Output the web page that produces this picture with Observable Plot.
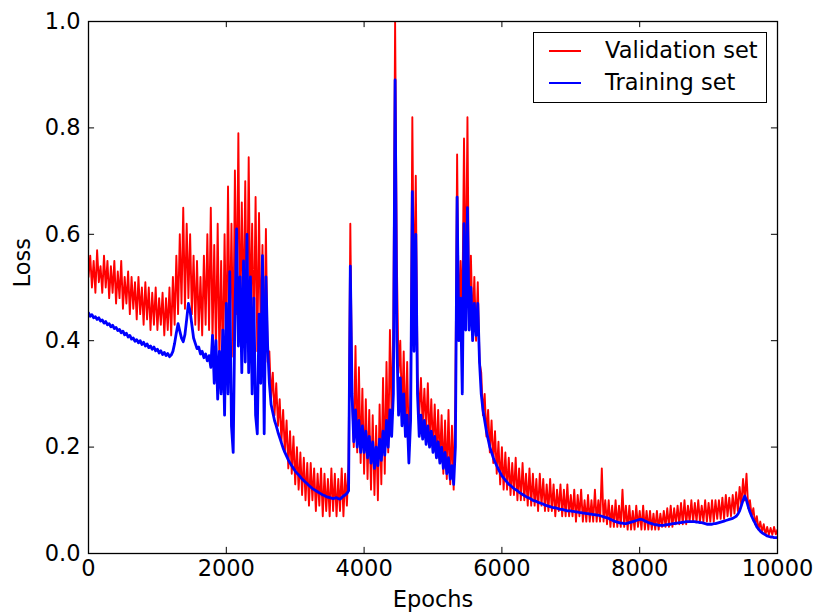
<!DOCTYPE html>
<html>
<head>
<meta charset="utf-8">
<script src="https://cdn.jsdelivr.net/npm/d3@7"></script>
<script src="https://cdn.jsdelivr.net/npm/@observablehq/plot@0.6"></script>
<style>
  body { margin: 0; background: #fff; }
  #wrap { position: relative; width: 819px; height: 616px; font-family: "DejaVu Sans", sans-serif; }
  #legend { position: absolute; left: 533px; top: 32px; width: 232px; height: 69px; border: 1.2px solid #000; background: #fff; }
  .lg-line { position: absolute; left: 15px; width: 32px; height: 2px; }
  .lg-text { position: absolute; left: 71px; font-size: 22.5px; line-height: 1; color: #000; }
</style>
</head>
<body>
<div id="wrap"></div>
<script>
const step = 25; // both series sampled every 25 epochs
const seriesNames = ["Validation set", "Training set"];
const seriesColors = ["red", "blue"];
const xTicks = [0, 2000, 4000, 6000, 8000, 10000];
const yTicks = [0, 0.2, 0.4, 0.6, 0.8, 1.0];

const validation = [
  0.52,0.56,0.50,0.55,0.49,0.57,0.51,0.54,0.49,0.56,
  0.50,0.55,0.48,0.54,0.49,0.55,0.47,0.53,0.48,0.55,
  0.46,0.52,0.47,0.53,0.45,0.52,0.46,0.51,0.44,0.52,
  0.45,0.50,0.43,0.51,0.44,0.50,0.42,0.49,0.43,0.50,
  0.42,0.48,0.43,0.49,0.41,0.48,0.42,0.50,0.41,0.52,
  0.43,0.56,0.45,0.60,0.47,0.65,0.46,0.62,0.48,0.60,
  0.45,0.56,0.43,0.55,0.42,0.52,0.41,0.56,0.43,0.60,
  0.42,0.65,0.40,0.58,0.38,0.62,0.36,0.55,0.35,0.60,
  0.38,0.69,0.40,0.62,0.37,0.72,0.45,0.79,0.42,0.66,
  0.44,0.70,0.41,0.745,0.43,0.62,0.40,0.67,0.38,0.64,
  0.40,0.58,0.37,0.61,0.36,0.38,0.29,0.34,0.26,0.32,
  0.24,0.29,0.21,0.27,0.19,0.25,0.16,0.23,0.15,0.22,
  0.13,0.20,0.12,0.19,0.11,0.18,0.10,0.17,0.09,0.17,
  0.10,0.16,0.08,0.15,0.09,0.16,0.07,0.15,0.08,0.14,
  0.07,0.16,0.08,0.15,0.07,0.14,0.08,0.16,0.07,0.15,
  0.09,0.17,0.62,0.30,0.20,0.39,0.19,0.35,0.17,0.31,
  0.15,0.29,0.14,0.27,0.12,0.26,0.11,0.24,0.10,0.28,
  0.13,0.33,0.15,0.36,0.19,0.42,0.25,0.44,1.00,0.55,
  0.34,0.40,0.26,0.38,0.22,0.36,0.19,0.30,0.82,0.45,
  0.71,0.34,0.26,0.33,0.24,0.31,0.23,0.32,0.21,0.29,
  0.20,0.28,0.18,0.27,0.17,0.26,0.15,0.25,0.14,0.27,
  0.13,0.24,0.12,0.30,0.75,0.42,0.55,0.44,0.78,0.47,
  0.82,0.43,0.56,0.42,0.52,0.40,0.51,0.36,0.34,0.26,
  0.30,0.22,0.27,0.19,0.25,0.17,0.23,0.15,0.21,0.13,
  0.20,0.12,0.19,0.12,0.18,0.11,0.17,0.11,0.18,0.10,
  0.16,0.10,0.17,0.10,0.15,0.09,0.16,0.09,0.15,0.09,
  0.14,0.08,0.15,0.09,0.14,0.08,0.13,0.08,0.14,0.08,
  0.13,0.07,0.12,0.08,0.13,0.07,0.12,0.07,0.13,0.07,
  0.11,0.07,0.12,0.06,0.11,0.07,0.12,0.06,0.10,0.06,
  0.11,0.06,0.10,0.06,0.12,0.06,0.10,0.06,0.16,0.06,
  0.10,0.055,0.10,0.05,0.09,0.05,0.10,0.05,0.09,0.05,
  0.12,0.05,0.09,0.045,0.09,0.045,0.08,0.045,0.09,0.05,
  0.08,0.045,0.09,0.045,0.08,0.045,0.08,0.045,0.075,0.045,
  0.08,0.045,0.075,0.05,0.08,0.05,0.085,0.05,0.09,0.05,
  0.085,0.055,0.09,0.055,0.095,0.055,0.10,0.055,0.09,0.06,
  0.10,0.06,0.095,0.06,0.10,0.06,0.09,0.06,0.10,0.06,
  0.095,0.06,0.10,0.06,0.10,0.065,0.10,0.065,0.105,0.065,
  0.11,0.07,0.105,0.07,0.11,0.075,0.115,0.08,0.125,0.09,
  0.14,0.10,0.15,0.085,0.10,0.07,0.085,0.055,0.07,0.045,
  0.06,0.04,0.055,0.035,0.05,0.035,0.048,0.035,0.05,0.036,
  0.045
];

const training = [
  0.452,0.446,0.449,0.443,0.445,0.440,0.443,0.437,0.439,0.433,
  0.436,0.430,0.432,0.426,0.429,0.423,0.425,0.419,0.421,0.415,
  0.418,0.411,0.414,0.407,0.410,0.403,0.405,0.399,0.402,0.396,
  0.400,0.393,0.397,0.390,0.394,0.387,0.390,0.384,0.388,0.381,
  0.384,0.377,0.381,0.374,0.378,0.372,0.376,0.370,0.373,0.380,
  0.395,0.415,0.432,0.418,0.405,0.398,0.412,0.440,0.470,0.455,
  0.430,0.405,0.395,0.385,0.388,0.375,0.380,0.368,0.375,0.362,
  0.372,0.350,0.410,0.320,0.400,0.290,0.380,0.300,0.420,0.260,
  0.470,0.300,0.530,0.240,0.190,0.450,0.610,0.390,0.520,0.340,
  0.550,0.360,0.600,0.340,0.520,0.300,0.480,0.260,0.225,0.450,
  0.320,0.560,0.225,0.520,0.390,0.320,0.280,0.265,0.250,0.240,
  0.228,0.218,0.208,0.198,0.190,0.183,0.176,0.170,0.165,0.160,
  0.155,0.151,0.148,0.144,0.140,0.137,0.134,0.131,0.128,0.125,
  0.122,0.120,0.118,0.116,0.114,0.112,0.110,0.109,0.107,0.106,
  0.105,0.104,0.103,0.104,0.105,0.103,0.102,0.105,0.108,0.110,
  0.113,0.118,0.540,0.300,0.210,0.270,0.200,0.250,0.190,0.240,
  0.190,0.230,0.180,0.220,0.170,0.210,0.160,0.200,0.165,0.215,
  0.175,0.230,0.185,0.250,0.200,0.270,0.220,0.300,0.890,0.400,
  0.260,0.330,0.240,0.300,0.220,0.260,0.170,0.250,0.680,0.380,
  0.600,0.300,0.220,0.260,0.215,0.250,0.205,0.240,0.200,0.230,
  0.190,0.220,0.180,0.210,0.170,0.200,0.160,0.190,0.150,0.180,
  0.140,0.165,0.130,0.200,0.670,0.400,0.480,0.300,0.620,0.420,
  0.650,0.420,0.500,0.400,0.470,0.410,0.470,0.360,0.300,0.270,
  0.250,0.230,0.215,0.200,0.190,0.180,0.172,0.165,0.158,0.152,
  0.146,0.142,0.138,0.134,0.130,0.128,0.125,0.122,0.120,0.118,
  0.115,0.113,0.111,0.109,0.107,0.105,0.104,0.102,0.100,0.099,
  0.098,0.096,0.095,0.094,0.093,0.091,0.090,0.089,0.088,0.087,
  0.086,0.086,0.085,0.084,0.083,0.083,0.082,0.081,0.080,0.080,
  0.080,0.079,0.079,0.078,0.078,0.077,0.077,0.076,0.076,0.075,
  0.075,0.074,0.074,0.073,0.073,0.072,0.072,0.071,0.070,0.069,
  0.068,0.067,0.066,0.064,0.063,0.061,0.060,0.059,0.058,0.057,
  0.057,0.056,0.056,0.057,0.058,0.059,0.060,0.061,0.062,0.063,
  0.064,0.064,0.063,0.061,0.060,0.058,0.057,0.056,0.055,0.054,
  0.054,0.053,0.053,0.053,0.053,0.054,0.054,0.055,0.055,0.056,
  0.056,0.057,0.057,0.058,0.058,0.059,0.059,0.060,0.060,0.060,
  0.060,0.060,0.060,0.059,0.059,0.058,0.058,0.057,0.056,0.055,
  0.055,0.055,0.055,0.056,0.056,0.057,0.058,0.059,0.060,0.061,
  0.062,0.063,0.064,0.065,0.066,0.068,0.070,0.074,0.080,0.090,
  0.100,0.108,0.100,0.088,0.078,0.070,0.063,0.057,0.050,0.046,
  0.042,0.039,0.037,0.035,0.033,0.032,0.031,0.031,0.030,0.030,
  0.030
];

const valRows = validation.map((v, i) => ({epoch: i * step, loss: v}));
const trainRows = training.map((v, i) => ({epoch: i * step, loss: v}));

const chart = Plot.plot({
  width: 819,
  height: 616,
  marginLeft: 88,
  marginRight: 42,
  marginTop: 21,
  marginBottom: 63,
  style: {fontFamily: "DejaVu Sans, sans-serif", fontSize: "22.5px", color: "#000", background: "#fff"},
  x: {domain: [0, 10000]},
  y: {domain: [0, 1]},
  marks: [
    Plot.line(valRows, {x: "epoch", y: "loss", stroke: seriesColors[0], strokeWidth: 1.9, clip: true}),
    Plot.line(trainRows, {x: "epoch", y: "loss", stroke: seriesColors[1], strokeWidth: 2.8, clip: true}),
    Plot.ruleX(xTicks, {y1: 0, y2: 0.0115, stroke: "#000", strokeWidth: 1}),
    Plot.ruleX(xTicks, {y1: 1, y2: 0.9885, stroke: "#000", strokeWidth: 1}),
    Plot.ruleY(yTicks, {x1: 0, x2: 88, stroke: "#000", strokeWidth: 1}),
    Plot.ruleY(yTicks, {x1: 10000, x2: 9912, stroke: "#000", strokeWidth: 1}),
    Plot.frame({stroke: "#000", strokeWidth: 1.3}),
    Plot.axisX(xTicks, {tickSize: 0, tickPadding: 7, tickFormat: d3.format("d"), label: null, fill: "#000"}),
    Plot.axisY(yTicks, {tickSize: 0, tickPadding: 8, tickFormat: d3.format(".1f"), label: null, fill: "#000"}),
    Plot.text(["Epochs"], {frameAnchor: "bottom", dy: 46, lineAnchor: "middle", fill: "#000"}),
    Plot.text(["Loss"], {frameAnchor: "left", dx: -66, rotate: -90, lineAnchor: "middle", fill: "#000"})
  ]
});

const wrap = document.getElementById("wrap");
wrap.appendChild(chart);

const legend = document.createElement("div");
legend.id = "legend";
const rowsY = [17, 49];
seriesNames.forEach((name, i) => {
  const line = document.createElement("div");
  line.className = "lg-line";
  line.style.top = rowsY[i] + "px";
  line.style.background = seriesColors[i];
  const txt = document.createElement("div");
  txt.className = "lg-text";
  txt.style.top = (rowsY[i] - 11) + "px";
  txt.textContent = name;
  legend.appendChild(line);
  legend.appendChild(txt);
});
wrap.appendChild(legend);
</script>
</body>
</html>
